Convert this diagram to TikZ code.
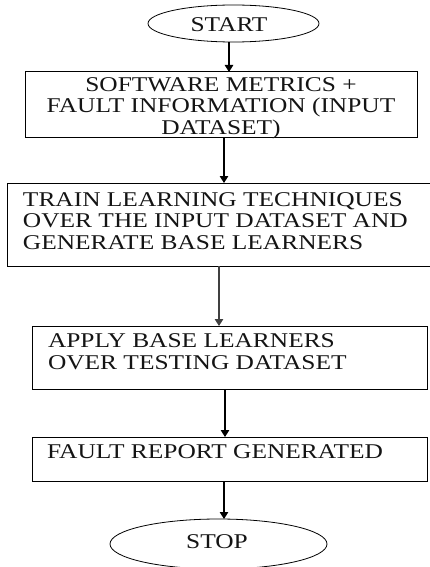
\documentclass[tikz,border=0pt]{standalone}
\usepackage{fontspec}
\setmainfont{Liberation Serif}[FakeStretch=1.21]
\usetikzlibrary{shapes.geometric,arrows.meta}

\begin{document}
\begin{tikzpicture}[x=1pt, y=-1pt,
  every node/.style={inner sep=0pt, outer sep=0pt},
  terminal/.style={draw, ellipse, line width=0.8pt},
  stepbox/.style={draw, rectangle, line width=1pt, anchor=north west},
  lbl/.style={font=\fontsize{21}{21.5}\selectfont, text=black!92},
  flow/.style={line width=1.1pt, -{Triangle[width=8.5pt,length=7pt]}}
]
  % page frame
  \clip (0,0) rectangle (430,567);

  % terminals
  \node[terminal, minimum width=171pt, minimum height=37pt] (start) at (233.5,23.5) {};
  \node[lbl, anchor=base] (startlbl) at (229,32) {START};

  \node[terminal, minimum width=217pt, minimum height=50pt] (stop) at (218.5,544) {};
  \node[lbl, anchor=base] (stoplbl) at (217,548) {STOP};

  % process boxes (multi-line labels are placed by the baseline of their last line)
  \node[stepbox, minimum width=392pt, minimum height=65pt] (b1) at (25,72) {};
  \node[lbl, align=center, anchor=base] (t1) at (221,134)
    {SOFTWARE METRICS +\\FAULT INFORMATION (INPUT\\DATASET)};

  \node[stepbox, minimum width=429pt, minimum height=83pt] (b2) at (7,183) {};
  \node[lbl, align=left, anchor=base west] (t2) at (23,249)
    {TRAIN LEARNING TECHNIQUES\\OVER THE INPUT DATASET AND\\GENERATE BASE LEARNERS};

  \node[stepbox, minimum width=395pt, minimum height=63pt] (b3) at (32,326) {};
  \node[lbl, align=left, anchor=base west] (t3) at (48,369)
    {APPLY BASE LEARNERS\\OVER TESTING DATASET};

  \node[stepbox, minimum width=395pt, minimum height=44pt] (b4) at (32,437) {};
  \node[lbl, anchor=base west] (t4) at (47,458) {FAULT REPORT GENERATED};

  % arrow columns
  \coordinate (c1) at (229,0);
  \coordinate (c2) at (224,0);
  \coordinate (c3) at (219,0);
  \coordinate (c4) at (225,0);
  \coordinate (c5) at (224,0);

  % connectors
  \draw[flow] (start.south -| c1) -- (b1.north -| c1);
  \draw[flow] (b1.south -| c2) -- (b2.north -| c2);
  \draw[flow, draw=black!75, fill=black] (b2.south -| c3) -- (b3.north -| c3);
  \draw[flow] (b3.south -| c4) -- (b4.north -| c4);
  \draw[flow] (b4.south -| c5) -- (stop.north -| c5);
\end{tikzpicture}
\end{document}
